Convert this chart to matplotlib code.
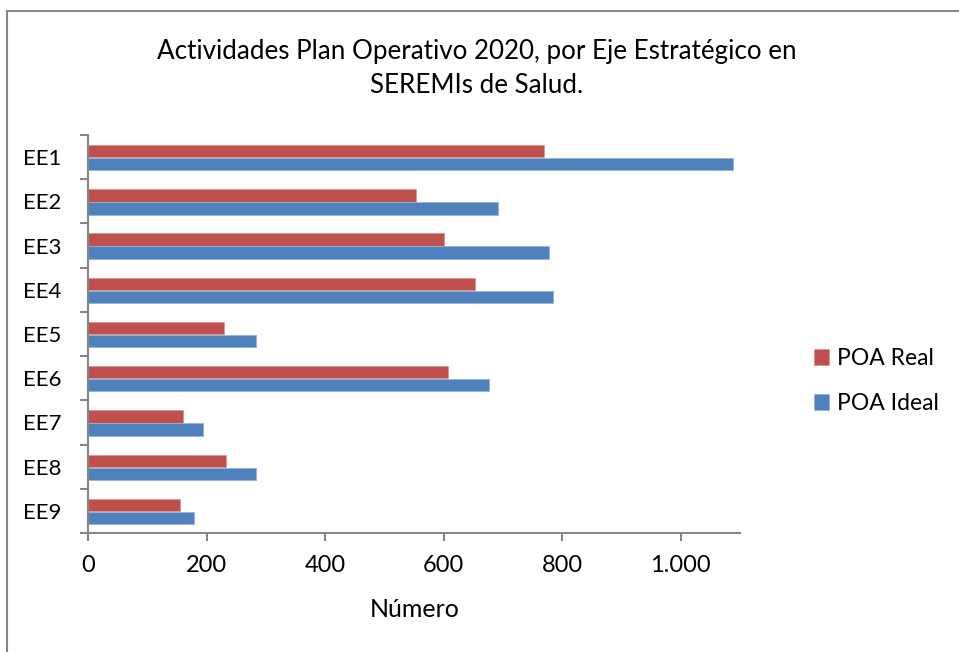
import matplotlib.pyplot as plt
import matplotlib.patches as patches
import numpy as np

plt.rcParams['font.family'] = ['Lato', 'DejaVu Sans']

categories = ['EE1', 'EE2', 'EE3', 'EE4', 'EE5', 'EE6', 'EE7', 'EE8', 'EE9']
poa_real = [769, 554, 601, 653, 229, 607, 160, 232, 156]
poa_ideal = [1089, 692, 778, 785, 284, 676, 194, 283, 178]

red = '#C0504D'
blue = '#4F81BD'
axis_gray = '#868686'

W, H = 959, 652
fig = plt.figure(figsize=(W / 100, H / 100), dpi=100)
# plot area in pixels: x 88..740, y 135..533
ax = fig.add_axes([88 / W, 1 - 533 / H, 652 / W, 398 / H])

y = np.arange(len(categories))
h = 0.28
ax.barh(y - 0.135, poa_real, height=h, color=red, edgecolor='#D99694', linewidth=0.6, label='POA Real')
ax.barh(y + 0.16, poa_ideal, height=h, color=blue, edgecolor='#95B3D7', linewidth=0.6, label='POA Ideal')

ax.set_xlim(0, 1100)
ax.set_ylim(len(categories) - 0.5, -0.5)
ax.set_xticks([0, 200, 400, 600, 800, 1000])
ax.set_xticklabels(['0', '200', '400', '600', '800', '1.000'])
ax.set_yticks(y)
ax.set_yticklabels(categories)
ax.set_yticks(np.arange(-0.5, len(categories), 1), minor=True)
ax.tick_params(axis='y', which='major', length=0, labelsize=16, pad=19)
ax.tick_params(axis='y', which='minor', length=6, color=axis_gray, width=1.5)
ax.tick_params(axis='x', length=6, color=axis_gray, width=1.5, labelsize=17, pad=10)

for s in ['top', 'right']:
    ax.spines[s].set_visible(False)
for s in ['left', 'bottom']:
    ax.spines[s].set_color(axis_gray)
    ax.spines[s].set_linewidth(1.5)

fig.text(415 / W, 1 - 617 / H, 'Número', ha='center', va='baseline', fontsize=18)
fig.text(477 / W, 1 - 59 / H, 'Actividades Plan Operativo 2020, por Eje Estratégico en',
         ha='center', va='baseline', fontsize=18.7)
fig.text(477 / W, 1 - 93 / H, 'SEREMIs de Salud.', ha='center', va='baseline', fontsize=18.7)

handles, labels = ax.get_legend_handles_labels()
fig.legend(handles, labels, loc='center left', bbox_to_anchor=(814 / W, 1 - 381 / H), frameon=False,
           fontsize=16.5, borderpad=0, borderaxespad=0, handlelength=0.65, handleheight=0.65,
           labelspacing=1.05, handletextpad=0.35)

fig.patches.append(patches.Rectangle((7 / W, -0.1), 1.2, 1.1 - 11 / H, transform=fig.transFigure,
                                     fill=False, edgecolor=axis_gray, linewidth=1.5))

fig.savefig('out.png', dpi=100)
